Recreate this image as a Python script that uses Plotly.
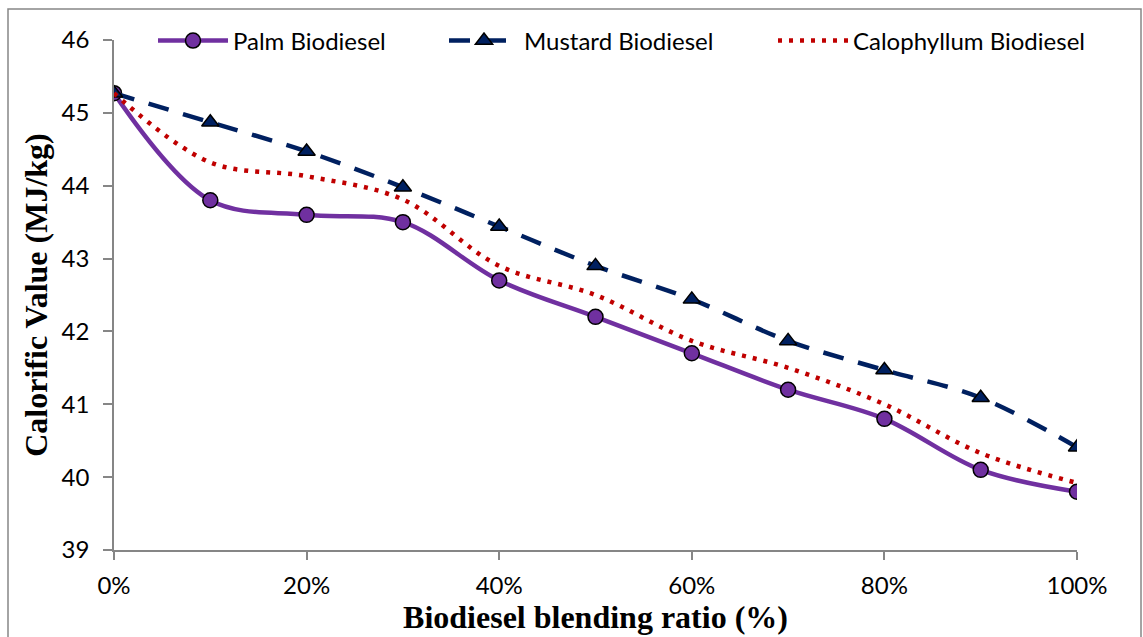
import plotly.graph_objects as go

# blending ratio (%)
blend = [0, 10, 20, 30, 40, 50, 60, 70, 80, 90, 100]

palm = [45.27, 43.8, 43.6, 43.5, 42.7, 42.2, 41.7, 41.2, 40.8, 40.1, 39.8]
mustard = [45.27, 44.87, 44.47, 43.98, 43.44, 42.9, 42.44, 41.87, 41.47, 41.09, 40.41]
calophyllum = [45.27, 44.32, 44.13, 43.81, 42.9, 42.5, 41.87, 41.5, 41.0, 40.33, 39.92]

x_ticks = [0, 20, 40, 60, 80, 100]
x_labels = ["0%", "20%", "40%", "60%", "80%", "100%"]
y_ticks = [39, 40, 41, 42, 43, 44, 45, 46]

fig = go.Figure()
fig.add_trace(go.Scatter(
    x=blend, y=palm, name="Palm Biodiesel", mode="lines+markers",
    line=dict(color="#7030A0", width=4.5, shape="spline"),
    marker=dict(symbol="circle", size=15, color="#7030A0",
                line=dict(color="black", width=1.5)),
    legend="legend"))
fig.add_trace(go.Scatter(
    x=blend, y=mustard, name="Mustard Biodiesel", mode="lines+markers",
    line=dict(color="#002060", width=4.5, dash="21px,15px", shape="spline"),
    marker=dict(symbol="triangle-up", size=15, color="#002060",
                line=dict(color="black", width=1.5)),
    legend="legend2"))
fig.add_trace(go.Scatter(
    x=blend, y=calophyllum, name="Calophyllum Biodiesel", mode="lines",
    line=dict(color="#C00000", width=4.5, dash="4px,7px", shape="spline"),
    legend="legend3"))

W, H = 1143, 637
L, R, T, B = 114, 66, 40, 87
pw, ph = W - L - R, H - T - B

leg_common = dict(orientation="h", yanchor="middle", y=1 - 1 / ph,
                  xanchor="left", bgcolor="rgba(0,0,0,0)", borderwidth=0,
                  itemwidth=70, font=dict(family="Lato", size=24, color="black"))

fig.update_layout(
    width=W, height=H, showlegend=True,
    margin=dict(l=L, r=R, t=T, b=B, autoexpand=False),
    plot_bgcolor="white", paper_bgcolor="white",
    font=dict(family="Lato", size=24, color="black"),
    legend=dict(x=(153 - L) / pw, **leg_common),
    legend2=dict(x=(444 - L) / pw, **leg_common),
    legend3=dict(x=(773 - L) / pw, **leg_common),
    xaxis=dict(
        range=[0, 100], tickvals=x_ticks, ticktext=x_labels,
        showline=True, linecolor="#868686", linewidth=1.5,
        ticks="outside", ticklen=8, tickcolor="#868686", tickwidth=1.5,
        showgrid=False, zeroline=False, ticklabelstandoff=5,
        title=dict(text="<b>Biodiesel blending ratio (%)</b>", standoff=5,
                   font=dict(family="Liberation Serif", size=32, color="black")),
    ),
    yaxis=dict(
        range=[39, 46], tickvals=y_ticks,
        showline=True, linecolor="#868686", linewidth=1.5,
        ticks="outside", ticklen=9, tickcolor="#868686", tickwidth=1.5,
        showgrid=False, zeroline=False, ticklabelstandoff=9,
        title=dict(text="<b>Calorific Value (MJ/kg)</b>", standoff=4,
                   font=dict(family="Liberation Serif", size=32, color="black")),
    ),
)

# outer chart border
fig.add_shape(type="rect", xref="paper", yref="paper",
              x0=(8 - L) / pw, x1=(1141 - L) / pw,
              y0=-(B + 10) / ph, y1=(H - B - 9) / ph,
              line=dict(color="#868686", width=1.5), layer="below")

# drop the default body margin so the figure sits at the page corner
fig.write_html("out.html", config={"displayModeBar": False},
               post_script="document.body.style.margin='0';")
